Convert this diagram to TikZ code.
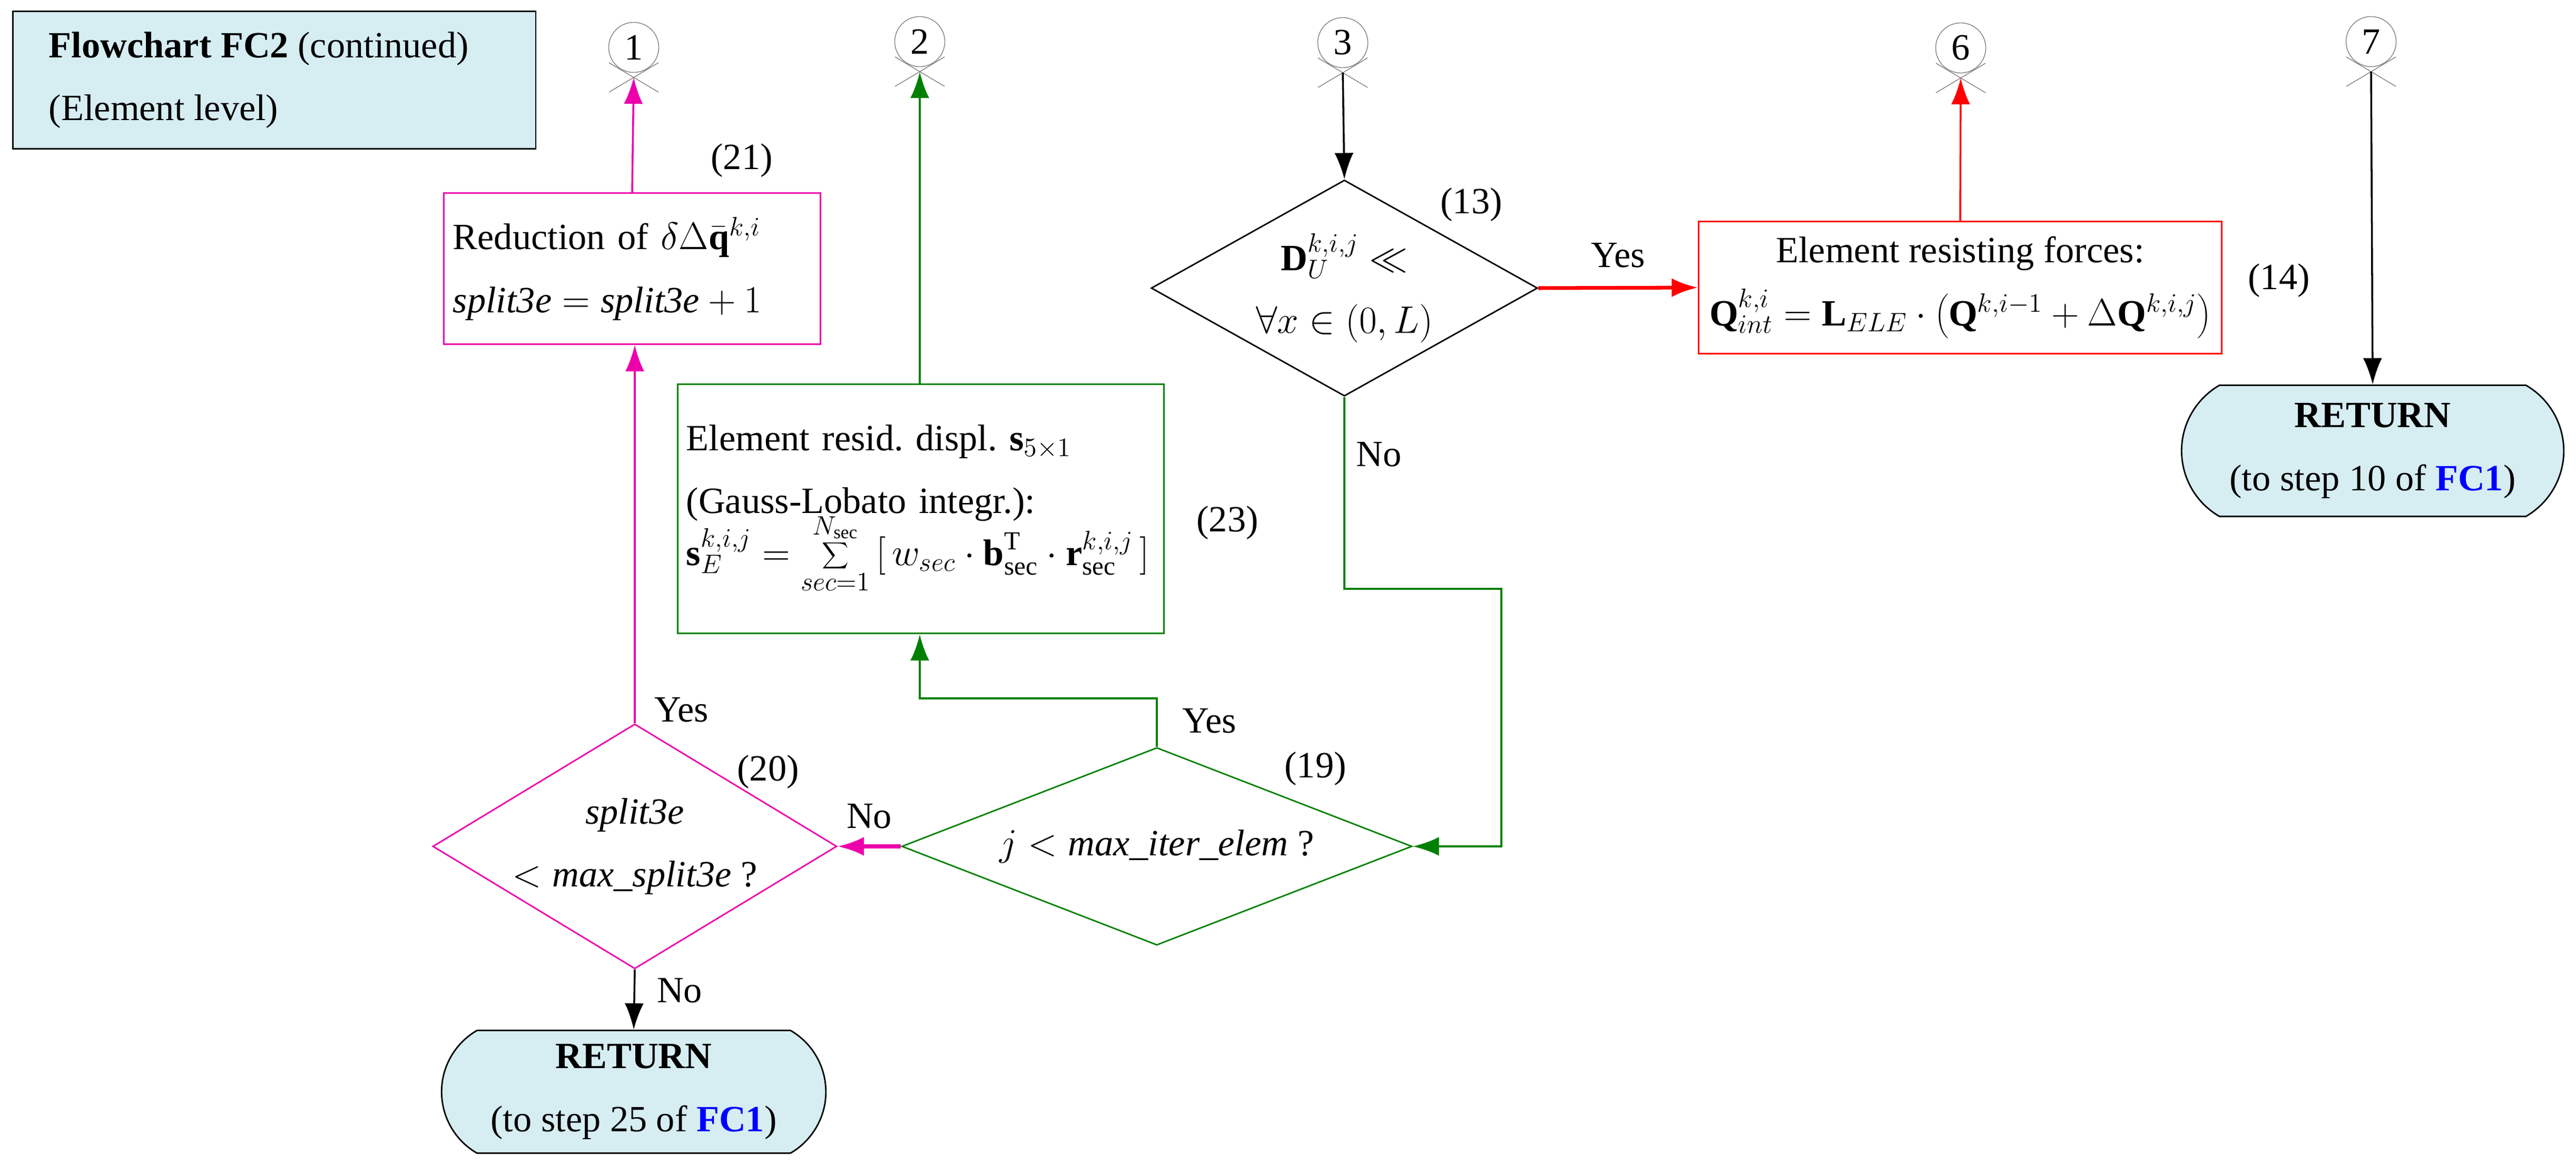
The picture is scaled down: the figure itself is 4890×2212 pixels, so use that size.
\documentclass[tikz,border=0pt]{standalone}
\usepackage{fontspec}
\setmainfont{Liberation Serif}
\usetikzlibrary{shapes.geometric, shapes.misc, arrows.meta, positioning}
\definecolor{fcmagenta}{RGB}{236,0,172}
\definecolor{fcgreen}{RGB}{0,128,0}
\definecolor{fcfill}{RGB}{214,237,242}
\tikzset{
    x=0.01cm, y=-0.01cm,
    font=\fontsize{20}{34}\selectfont,
    every node/.style={
        align=center,
        inner sep=0pt,
    },
    proc/.style={           % process box
        draw,
        line width=0.8pt,
        rectangle,
    },
    test/.style={           % decision
        draw,
        line width=0.8pt,
        diamond,
    },
    term/.style={           % return terminal
        draw,
        line width=0.8pt,
        rounded rectangle,
        rounded rectangle arc length=120,
        fill=fcfill,
    },
    conn/.style={           % off-page connector
        draw=gray,
        circle,
        minimum size=0.95cm,
    },
    flow/.style={
        line width=1.3pt,
        -{Latex[length=5mm,width=3.6mm]}
    }
}
\begin{document}
\begin{tikzpicture}
    \useasboundingbox (0,0) rectangle (4890,2212);
    % title
    \node[proc, fill=fcfill, anchor=north west, minimum width=9.92cm, minimum height=2.61cm,
          inner xsep=0.25cm, align=left] (title) at (23,20)
          {\textbf{Flowchart FC2} (continued)\\(Element level)\hspace*{4.2cm}};
    % connectors
    \node[conn] (c1) at (1203,90) {1};
    \node[conn] (c2) at (1746,79) {2};
    \node[conn] (c3) at (2549,81) {3};
    \node[conn] (c6) at (3722,91) {6};
    \node[conn] (c7) at (4501,79) {7};
    \foreach \c in {c1,c2,c3,c6,c7}{
        \coordinate (\c-x) at ([yshift=-0.57cm]\c.center);
        \draw[gray] ([shift={(-0.47cm,0.28cm)}]\c-x) -- ([shift={(0.47cm,-0.28cm)}]\c-x);
        \draw[gray] ([shift={(0.47cm,0.28cm)}]\c-x) -- ([shift={(-0.47cm,-0.28cm)}]\c-x);
    }
    % steps
    \node[proc, draw=fcmagenta, minimum width=7.15cm, minimum height=2.87cm,
          text width=6.8cm, align=left] (s21) at (1200,510)
          {Reduction of $\delta\Delta\bar{\mathbf{q}}^{k,i}$\\$\mathit{split3e}=\mathit{split3e}+1$};
    \node[proc, draw=fcgreen, minimum width=9.22cm, minimum height=4.73cm,
          text width=8.9cm, align=left] (s23) at (1748,966)
          {Element resid.\ displ.\ $\mathbf{s}_{5\times1}$\\(Gauss-Lobato integr.):\\[-6pt]
           $\displaystyle\mathbf{s}_E^{k,i,j}=\sum_{sec=1}^{N_{\mathrm{sec}}}\Big[\,w_{sec}\cdot\mathbf{b}_{\mathrm{sec}}^{\mathrm{T}}\cdot\mathbf{r}_{\mathrm{sec}}^{k,i,j}\,\Big]$};
    \node[proc, draw=red, minimum width=9.92cm, minimum height=2.51cm] (s14) at (3721,546)
          {Element resisting forces:\\$\mathbf{Q}_{int}^{k,i}=\mathbf{L}_{ELE}\cdot\left(\mathbf{Q}^{k,i-1}+\Delta\mathbf{Q}^{k,i,j}\right)$};
    \node[test, aspect=1.79, minimum width=7.33cm, minimum height=4.1cm] (d13) at (2552,547)
          {$\mathbf{D}_U^{k,i,j}\ll$\\$\forall x\in\left(0,L\right)$};
    \node[test, aspect=2.58, draw=fcgreen, minimum width=9.68cm, minimum height=3.75cm] (d19) at (2196,1607)
          {$j<\mathit{max\_iter\_elem}$ ?};
    \node[test, aspect=1.65, draw=fcmagenta, minimum width=6.77cm, minimum height=4.1cm] (d20) at (1205,1607)
          {$\mathit{split3e}$\\$<\mathit{max\_split3e}$ ?};
    \node[term, minimum width=7.25cm, minimum height=2.49cm] (r7) at (4504,856)
          {\textbf{RETURN}\\(to step 10 of \textcolor{blue}{\textbf{FC1}})};
    \node[term, minimum width=7.29cm, minimum height=2.33cm] (r25) at (1203,2073)
          {\textbf{RETURN}\\(to step 25 of \textcolor{blue}{\textbf{FC1}})};
    % step numbers
    \node at (1408,305) {(21)};
    \node at (2330,993) {(23)};
    \node at (2793,389) {(13)};
    \node at (4326,533) {(14)};
    \node at (2497,1460) {(19)};
    \node at (1458,1466) {(20)};
    % flow
    \coordinate (g1) at (2850,1118);
    \coordinate (g2) at (1746,1326);
    \draw[flow, fcmagenta, line width=1pt] (s21.north) -- (c1-x);
    \draw[flow, fcgreen] (s23.north -| c2-x) -- (c2-x);
    \draw[flow, line width=1pt] (c3-x) -- (d13.north);
    \draw[flow, red, line width=2pt] (d13.east) -- node[above=0.35cm, black] {Yes} (s14.west);
    \draw[flow, red, line width=1pt] (s14.north) -- (c6-x);
    \draw[flow, line width=1pt] (c7-x) -- (r7.north);
    \draw[flow, fcgreen] (d13.south) |- node[pos=0.15, right=0.2cm, black] {No} (g1) |- (d19.east);
    \draw[flow, fcgreen] (d19.north) |- (g2) -- (s23.south -| g2);
    \node at (2296,1369) {Yes};
    \draw[flow, fcmagenta, line width=2pt] (d19.west) -- node[above=0.3cm, black] {No} (d20.east);
    \draw[flow, fcmagenta, line width=1pt] (d20.north) -- (s21.south -| d20.north);
    \node at (1294,1348) {Yes};
    \draw[flow, line width=1pt] (d20.south) -- (r25.north);
    \node at (1290,1881) {No};
\end{tikzpicture}
\end{document}
